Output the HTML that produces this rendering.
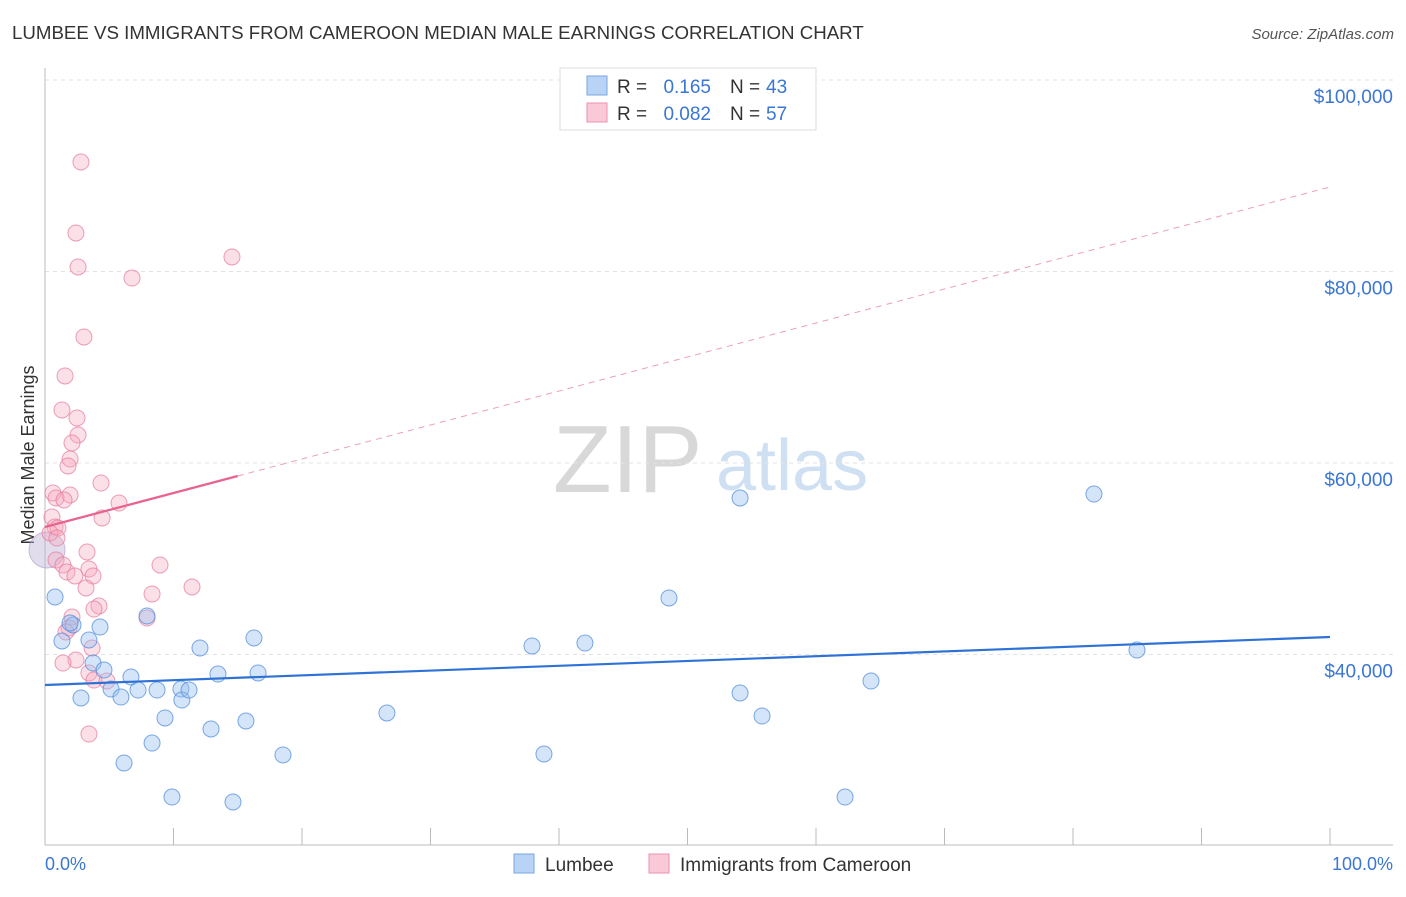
<!DOCTYPE html>
<html><head><meta charset="utf-8"><style>
body{margin:0;background:#fff;font-family:"Liberation Sans",sans-serif;}
svg text{font-family:"Liberation Sans",sans-serif;}
</style></head><body>
<svg id="c" width="1406" height="892" xmlns="http://www.w3.org/2000/svg">
<text x="12" y="39" font-size="18.7" fill="#333">LUMBEE VS IMMIGRANTS FROM CAMEROON MEDIAN MALE EARNINGS CORRELATION CHART</text>
<text x="1394" y="39" font-size="15" fill="#555" text-anchor="end" font-style="italic">Source: ZipAtlas.com</text>
<text x="34" y="455" font-size="18" fill="#333" text-anchor="middle" transform="rotate(-90 34 455)">Median Male Earnings</text>
<text x="553" y="492" font-size="96" fill="#d8d8d8" font-family="Liberation Serif">ZIP</text>
<text x="716" y="490" font-size="72" fill="#cfe0f3">atlas</text>
<g id="grid"></g><g id="axes"></g><g id="pts"></g><g id="lines"></g>
<g>
<rect x="560" y="68" width="256" height="62" fill="#fff" stroke="#ddd"/>
<rect x="587" y="76" width="20" height="19" fill="#b8d3f5" stroke="#7aa7e0"/>
<rect x="587" y="103" width="20" height="19" fill="#f9c9d7" stroke="#ea92ae"/>
<text x="617" y="93" font-size="19" fill="#333">R =</text>
<text x="711" y="93" font-size="19" fill="#3a76d4" text-anchor="end">0.165</text>
<text x="730" y="93" font-size="19" fill="#333">N =</text>
<text x="766" y="93" font-size="19" fill="#3a76d4">43</text>
<text x="617" y="120" font-size="19" fill="#333">R =</text>
<text x="711" y="120" font-size="19" fill="#3a76d4" text-anchor="end">0.082</text>
<text x="730" y="120" font-size="19" fill="#333">N =</text>
<text x="766" y="120" font-size="19" fill="#3a76d4">57</text>
</g>
<g>
<rect x="514" y="854" width="20" height="19" fill="#b8d3f5" stroke="#7aa7e0"/>
<text x="545" y="871" font-size="19" fill="#333">Lumbee</text>
<rect x="649" y="854" width="20" height="19" fill="#f9c9d7" stroke="#ea92ae"/>
<text x="680" y="871" font-size="19" fill="#333">Immigrants from Cameroon</text>
</g>
<text x="45" y="870" font-size="18" fill="#3a76d4">0.0%</text>
<text x="1393" y="870" font-size="18" fill="#3a76d4" text-anchor="end">100.0%</text>
</svg>
<script>
const yTicks=[100000,80000,60000,40000];
const yTickLabels=["$100,000","$80,000","$60,000","$40,000"];
const blueX=[0.78,1.32,2.18,2.80,3.42,3.74,4.28,4.59,5.14,5.91,6.15,6.69,7.24,8.33,8.72,9.34,9.88,10.58,10.65,11.21,12.06,12.92,13.46,14.63,15.64,16.26,16.58,18.52,26.61,37.90,38.83,42.02,48.56,54.09,54.09,55.80,62.26,64.28,81.63,84.98,7.94,1.95];
const blueY=[46005,41410,43080,35456,41514,39110,42870,38380,36395,35560,28670,37650,36290,30755,36290,33370,25115,36395,35245,36290,40680,32220,37960,24595,33055,41725,38070,29505,33890,40890,29610,41200,45900,56345,35980,33575,25115,37230,56760,40470,44020,43290];
const pinkX=[2.80,2.41,2.57,6.77,14.55,3.03,1.56,1.32,2.49,2.57,2.10,1.95,1.79,4.36,0.62,0.86,1.95,1.48,5.76,0.54,4.44,0.78,1.01,0.39,0.93,3.27,0.86,1.40,8.95,3.42,1.71,2.33,3.74,3.19,11.44,8.33,4.20,3.81,2.10,7.94,1.87,1.63,3.66,2.41,1.40,3.42,3.81,4.82,3.42];
const pinkY=[91436,84020,80470,79320,81514,73160,69090,65535,64700,62925,62090,60420,59690,57910,56870,56345,56660,56135,55820,54360,54255,53315,53210,52690,52165,50705,49870,49350,49350,48930,48615,48200,48200,46945,47050,46320,45065,44750,43915,43810,42770,42350,40680,39430,39110,38070,37335,37230,31695];
const blueTrend=[36815,41828];
const pinkTrend=[53316,88825];
const pinkSolidEnd=15;
const X=v=>45+v*12.85, Y=v=>80+(100000-v)*191.5/20000;
const NS="http://www.w3.org/2000/svg";
function mk(t,a,p){const e=document.createElementNS(NS,t);for(const k in a)e.setAttribute(k,a[k]);p.appendChild(e);return e;}
const grid=document.getElementById('grid'),axes=document.getElementById('axes'),pts=document.getElementById('pts'),lines=document.getElementById('lines');
yTicks.forEach((t,i)=>{
 const l=mk('line',{x1:45,x2:1393,y1:Y(t),y2:Y(t),stroke:'#e3e3e3','stroke-dasharray':'4 4'},grid);
 
 
 const tx=mk('text',{x:1393,y:Y(t)+23,'font-size':19,fill:'#3a76d4','text-anchor':'end'},grid);
 tx.textContent=yTickLabels[i];
 
 
});
const ya=mk('line',{x1:45,x2:45,y1:68,y2:845,stroke:'#bbb'},axes);


const xa=mk('line',{x1:45,x2:1393,y1:845,y2:845,stroke:'#bbb'},axes);


for(let i=0;i<=10;i++){
 const tk=mk('line',{x1:X(i*10),x2:X(i*10),y1:828,y2:845,stroke:'#bbb'},axes);
 
 
}
const big=mk('circle',{cx:47,cy:550,r:18,fill:'rgba(190,180,215,0.45)',stroke:'rgba(170,150,200,0.6)'},pts);


pinkX.forEach((x,i)=>{
 const c=mk('circle',{cx:X(x),cy:Y(pinkY[i]),r:8,fill:'rgba(245,165,190,0.35)',stroke:'rgba(230,120,155,0.7)','stroke-width':1},pts);
 
 
});
blueX.forEach((x,i)=>{
 const c=mk('circle',{cx:X(x),cy:Y(blueY[i]),r:8,fill:'rgba(150,190,240,0.4)',stroke:'rgba(80,140,220,0.75)','stroke-width':1},pts);
 
 
});
const bl=mk('line',{x1:X(0),y1:Y(blueTrend[0]),x2:X(100),y2:Y(blueTrend[1]),stroke:'#2f72d6','stroke-width':2.2},lines);


const pAt=x=>pinkTrend[0]+(pinkTrend[1]-pinkTrend[0])*x/100;
const ps=mk('line',{x1:X(0),y1:Y(pAt(0)),x2:X(pinkSolidEnd),y2:Y(pAt(pinkSolidEnd)),stroke:'#e8638f','stroke-width':2.2},lines);


const pd=mk('line',{x1:X(pinkSolidEnd),y1:Y(pAt(pinkSolidEnd)),x2:X(100),y2:Y(pAt(100)),stroke:'#eaa0b8','stroke-width':1,'stroke-dasharray':'6 5'},lines);


</script>
</body></html>
